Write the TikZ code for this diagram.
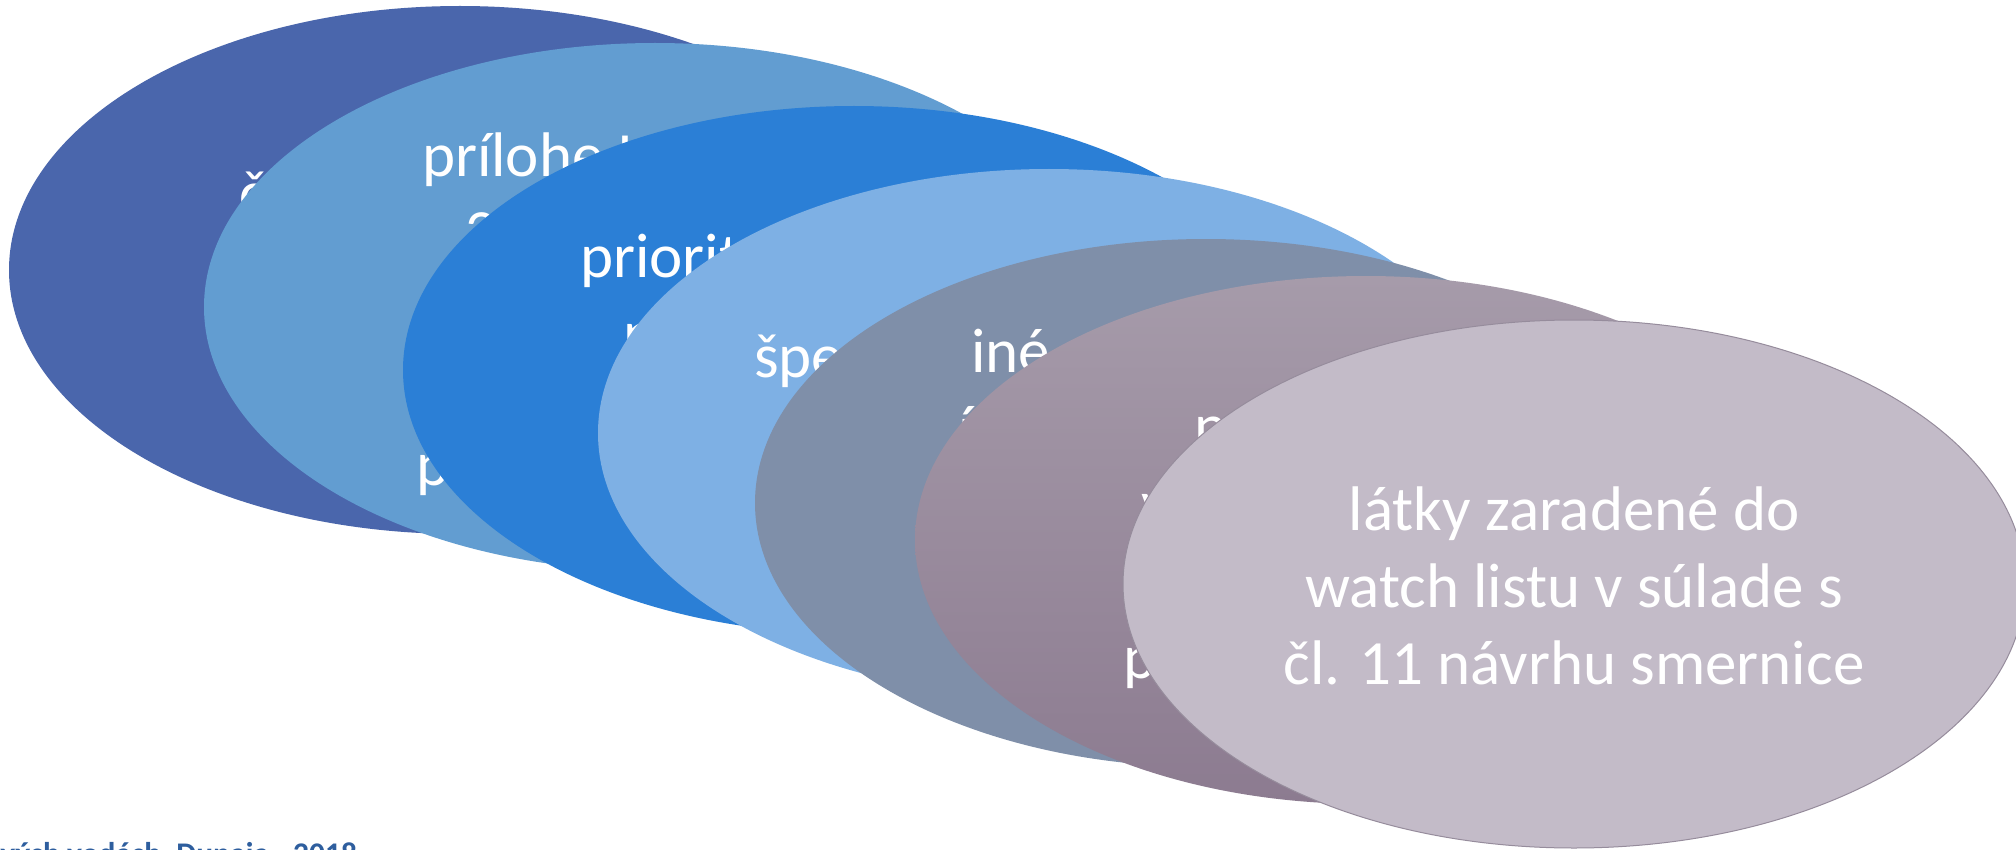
\documentclass[tikz,border=0pt]{standalone}
\usepackage{fontspec}
\setmainfont{Carlito}
\usetikzlibrary{shapes.geometric}
\definecolor{cA}{HTML}{4A66AC}
\definecolor{cB}{HTML}{629DD1}
\definecolor{cC}{HTML}{2B7FD6}
\definecolor{cD}{HTML}{7EB0E4}
\definecolor{cE}{HTML}{7F8FA9}
\definecolor{cFtop}{HTML}{A69BAA}
\definecolor{cFbot}{HTML}{8C7B90}
\definecolor{cG}{HTML}{C3BBC8}
\definecolor{cGline}{HTML}{968C9C}
\definecolor{capblue}{HTML}{2E5E9E}
\begin{document}
\begin{tikzpicture}[x=0.5pt,y=-0.5pt,
  oval/.style={ellipse, minimum width=451pt, minimum height=264pt, inner sep=0pt, outer sep=0pt},
  frag/.style={anchor=base west, inner sep=0pt, outer sep=0pt, text=white, font=\fontsize{31.5}{38.5}\selectfont},
  mid/.style={anchor=base, inner sep=0pt, outer sep=0pt, text=white, font=\fontsize{31.5}{38.5}\selectfont},
  captxt/.style={anchor=base east, inner sep=0pt, outer sep=0pt, text=capblue, font=\bfseries\fontsize{15.75}{19}\selectfont}]
\fill[white] (0,0) rectangle (2016,850);
\useasboundingbox (0,0) rectangle (2016,850);
% ellipse 1
\node[oval, fill=cA] (e1) at (460,270) {};
\node[frag] (t1a) at (239,214) {časť};
% ellipse 2
\node[oval, fill=cB] (e2) at (655,307) {};
\node[frag] (t2a) at (422,177) {prílohe I};
\node[frag] (t2b) at (465,254) {2008};
\node[frag] (t2e) at (416,485) {podľa};
% ellipse 3
\node[oval, fill=cC] (e3) at (854,370) {};
\node[frag] (t3a) at (580,277) {prioritné};
\node[frag] (t3b) at (623,354) {na};
% ellipse 4
\node[oval, fill=cD] (e4) at (1049,433) {};
\node[frag] (t4a) at (754,377) {špec};
% ellipse 5
\node[oval, fill=cE] (e5) at (1206,503) {};
\node[frag] (t5a) at (971,372) {iné};
\node[frag] (t5b) at (958,449) {í};
\node[frag] (t5d) at (924,603) {ostatné};
% ellipse 6
\node[oval, top color=cFtop, bottom color=cFbot] (e6) at (1366,540) {};
\node[frag] (t6a) at (1194,447) {nové};
\node[frag] (t6b) at (1141,524) {vo};
\node[frag] (t6d) at (1123,678) {podľa};
% ellipse 7
\node[oval, fill=cG, draw=cGline, line width=0.5pt] (e7) at (1574,584) {};
\node[mid] (t7a) at (1574,530) {látky zaradené do};
\node[mid] (t7b) at (1574,607) {watch listu v súlade s};
\node[mid] (t7c) at (1574,684) {čl. 11 návrhu smernice};
% caption (cut by the page edge)
\node[captxt] (cap) at (357,864) {v povrchových vodách, Dunaja - 2018};
\end{tikzpicture}
\end{document}
